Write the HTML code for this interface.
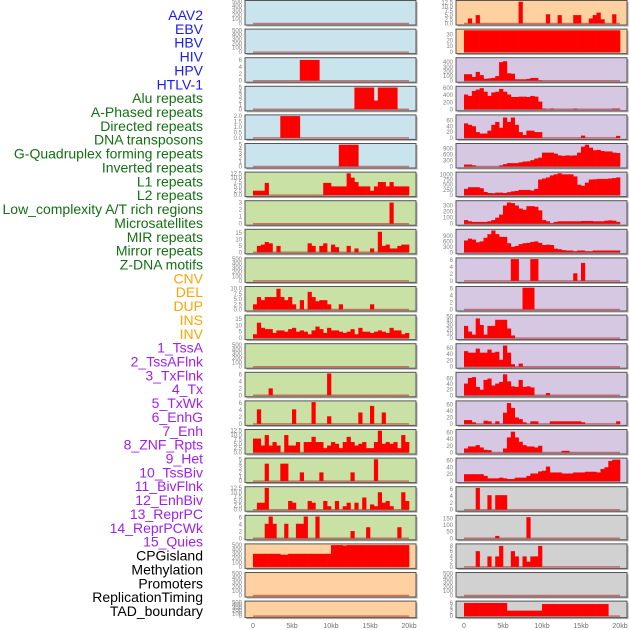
<!DOCTYPE html>
<html><head><meta charset="utf-8"><style>
html,body{margin:0;padding:0;background:#fff;width:630px;height:630px;overflow:hidden}
svg{display:block}
text{font-family:"Liberation Sans",sans-serif}
</style></head><body>
<svg id="chart" width="630" height="630" xmlns="http://www.w3.org/2000/svg"></svg>
<script>
const labels=["AAV2","EBV","HBV","HIV","HPV","HTLV-1","Alu repeats","A-Phased repeats","Directed repeats","DNA transposons","G-Quadruplex forming repeats","Inverted repeats","L1 repeats","L2 repeats","Low_complexity A/T rich regions","Microsatellites","MIR repeats","Mirror repeats","Z-DNA motifs","CNV","DEL","DUP","INS","INV","1_TssA","2_TssAFlnk","3_TxFlnk","4_Tx","5_TxWk","6_EnhG","7_Enh","8_ZNF_Rpts","9_Het","10_TssBiv","11_BivFlnk","12_EnhBiv","13_ReprPC","14_ReprPCWk","15_Quies","CPGisland","Methylation","Promoters","ReplicationTiming","TAD_boundary"];
const labelColors=["#1a1aff","#1a1aff","#1a1aff","#1a1aff","#1a1aff","#1a1aff","#137013","#137013","#137013","#137013","#137013","#137013","#137013","#137013","#137013","#137013","#137013","#137013","#137013","#ffa500","#ffa500","#ffa500","#ffa500","#ffa500","#a020f0","#a020f0","#a020f0","#a020f0","#a020f0","#a020f0","#a020f0","#a020f0","#a020f0","#a020f0","#a020f0","#a020f0","#a020f0","#a020f0","#a020f0","#000","#000","#000","#000","#000"];
const xTickKb=[0,5,10,15,20];
const xTickLabels=["0","5kb","10kb","15kb","20kb"];
const binKb=0.5;
const T500=["0","100","200","300","400","500"];
// left column
const leftBg=["b","b","b","b","b","b","g","g","g","g","g","g","g","g","g","g","g","g","g","o","o","o"];
const leftMax=[500,500,6.3,5,2,5,12.5,3.1,17,500,10.5,17,500,6.3,6.3,12.5,5,12.5,6.3,500,500,500];
const leftTicks=[T500,T500,["0","2","4","6"],["0","1","2","3","4","5"],["0.0","0.5","1.0","1.5","2.0"],["0","1","2","3","4","5"],["0.0","2.5","5.0","7.5","10.0","12.5"],["0","1","2","3"],["0","5","10","15"],T500,["0.0","2.5","5.0","7.5","10.0"],["0","5","10","15"],T500,["0","2","4","6"],["0","2","4","6"],["0.0","2.5","5.0","7.5","10.0","12.5"],["0","1","2","3","4","5"],["0.0","2.5","5.0","7.5","10.0","12.5"],["0","2","4","6"],T500,T500,T500];
const L1=[],L2=[],L10=[],L13=[],L21=[],L22=[];
const L3=[0,0,0,0,0,0,0,0,0,0,0,0,6,6,6,6,6,0,0,0,0,0,0,0,0,0,0,0,0,0,0,0,0,0,0,0,0,0,0,0];
const L4=[0,0,0,0,0,0,0,0,0,0,0,0,0,0,0,0,0,0,0,0,0,0,0,0,0,0,5,5,5,5,5,2,5,5,5,5,5,0,0,0];
const L5=[0,0,0,0,0,0,0,2,2,2,2,2,0,0,0,0,0,0,0,0,0,0,0,0,0,0,0,0,0,0,0,0,0,0,0,0,0,0,0,0];
const L6=[0,0,0,0,0,0,0,0,0,0,0,0,0,0,0,0,0,0,0,0,0,0,5,5,5,5,5,0,0,0,0,0,0,0,0,0,0,0,0,0];
const L7=[2.5,2.5,2.5,7,0,0,0,0,0,0,0,0,0,0,0,0,0,0,7,7,5,5,5,5,12.5,10,7.5,5,5,5,2.5,5,7.5,7.5,5,7.5,5,5,5,5];
const L8=[0,0,0,0,0,0,0,0,0,0,0,0,0,0,0,0,0,0,0,0,0,0,0,0,0,0,0,0,0,0,0,0,0,0,0,3,0,0,0,0];
const L9=[0,5,6,8,7,0,5,0,0,0,0,0,0,0,7,5,0,5,7,0,6,4,0,0,5,0,3,0,0,0,3,0,16,5,6,3,3,5,6,6];
const L11=[2.5,6,4.5,6,6,6,10,6,4.5,6,2.5,0,4.5,0,8.5,6,4,4.5,4.5,2.5,0,0,2.5,0,0,0,0,0,0,0,2.5,0,0,0,0,0,0,0,0,0];
const L12=[3,12,8,7,7,4,6,6,5,7,8,5,6,5,3,6,9,7,4,8,6,6,5,4,5,7,3,8,5,5,4,5,6,5,4,8,6,6,3,4];
const L14=[0,0,0,0,2,0,0,0,0,0,0,0,0,0,0,0,0,0,0,6.3,0,0,0,0,0,0,0,0,0,0,0,0,0,0,0,0,0,0,0,0];
const L15=[0,4.2,0,0,0,0,0,0,0,0,4.2,0,0,0,0,6.3,0,0,0,2.2,0,0,0,0,0,0,0,3.3,0,0,5.2,0,0,3.3,0,0,0,0,0,0];
const L16=[8,8,4,10,4,6,4,0,10,4,4,6,0,6,6,9,6,6,2.5,4,6,5,2.5,6,9,6,4,5,6,2.5,2.5,6,12.5,5,6,5,6,2.5,10,6];
const L17=[0,0,0,4,0,0,0,4,4,0,0,0,2,0,0,0,0,2,0,0,0,0,0,0,0,2,0,0,0,0,0,5,0,0,0,0,0,0,0,0];
const L18=[0,4,4,12.5,0,0,0,0,0,5,4,0,0,0,5,4,0,0,5,2,0,5,0,2,4,0,4,0,7,0,3,2,10,4,5,2,0,0,10,5];
const L19=[0,0,0,4.2,6.3,4.2,0,0,4.2,0,0,4.2,4.2,6.3,0,0,6.3,0,0,0,0,0,0,0,0,2.1,0,0,0,3.2,0,0,0,0,0,0,0,3.2,0,0];
const L20=[300,300,300,300,300,300,300,280,280,300,300,300,300,300,300,300,300,300,300,300,500,500,500,490,500,500,500,500,500,500,500,500,500,500,500,500,500,500,500,500];
// right column
const rightBg=["o","o","p","p","p","p","p","p","p","p","p","p","p","p","p","p","p","y","y","y","y","y"];
const rightMax=[13,37,470,620,75,1100,1050,360,1200,6.3,6.3,50,70,78,68,65,63,6.3,165,8.3,500,6.3];
const rightTicks=[["0.0","2.5","5.0","7.5","10.0","12.5"],["0","10","20","30"],["0","100","200","300","400"],["0","200","400","600"],["0","20","40","60"],["0","300","600","900"],["0","250","500","750","1000"],["0","100","200","300"],["0","300","600","900"],["0","2","4","6"],["0","2","4","6"],["0","10","20","30","40","50"],["0","20","40","60"],["0","20","40","60"],["0","20","40","60"],["0","20","40","60"],["0","20","40","60"],["0","2","4","6"],["0","50","100","150"],["0","2","4","6","8"],T500,["0","2","4","6"]];
const R1=[0,3,0,5,0,0,0,0,0,0,0,0,0,0,13,0,0,0,0,0,0,5.5,0,0,5,0,0,0,5,5,0,0,3,5,6.5,2.5,0,0,5.5,0];
const R2=[37,37,37,37,37,37,37,37,37,37,37,37,37,37,37,37,37,37,37,37,37,37,37,37,37,37,37,37,37,37,37,37,37,37,37,37,37,37,37,37];
const R3=[140,140,80,190,120,40,50,60,100,400,420,160,150,30,30,30,40,60,60,10,0,0,0,0,0,0,0,0,0,0,0,0,0,0,0,0,0,0,0,0];
const R4=[420,380,520,560,600,500,380,480,500,580,500,420,350,350,360,360,350,380,360,220,20,0,20,0,0,0,0,0,20,0,0,0,0,0,0,0,0,0,20,20];
const R5=[50,45,40,20,15,15,25,45,55,35,70,55,70,45,20,10,25,25,20,20,0,0,0,0,0,0,0,0,0,0,8,0,0,0,0,0,0,0,0,7];
const R6=[100,100,60,0,0,0,0,0,0,60,120,170,170,170,210,250,260,320,400,450,700,700,700,650,560,540,560,550,560,700,1000,1100,950,820,840,780,760,760,700,680];
const R7=[300,380,380,380,330,150,100,90,120,120,100,140,180,200,250,250,250,220,300,750,800,850,950,1000,1050,1000,1000,1000,900,500,450,600,750,760,780,780,780,800,820,850];
const R8=[60,40,30,30,30,30,40,60,100,150,300,350,340,300,250,230,290,290,280,220,60,40,10,30,40,40,40,40,40,40,45,45,45,40,40,40,50,55,50,30];
const R9=[650,750,700,550,600,800,1000,1200,1000,850,850,500,300,350,450,500,520,570,600,520,400,420,400,200,170,120,100,100,60,100,100,60,60,100,100,100,100,100,100,100];
const R10=[0,0,0,0,0,0,0,0,0,0,0,0,6.3,6.3,0,0,0,6.3,6.3,0,0,0,0,0,0,0,0,0,2.2,0,5.2,0,0,0,0,0,0,0,0,0];
const R11=[0,0,0,0,0,0,0,0,0,0,0,0,0,0,0,6.3,6.3,6.3,0,0,0,0,0,0,0,0,0,0,0,0,0,0,0,0,0,0,0,0,0,0];
const R12=[28,15,8,45,30,8,28,28,42,42,42,22,6,0,0,0,0,0,0,0,0,0,0,0,0,0,0,0,0,0,0,0,0,0,0,0,0,0,0,0];
const R13=[50,45,45,58,45,45,55,45,48,22,68,45,8,0,10,0,0,0,0,0,0,0,0,0,0,0,0,0,0,0,0,0,0,0,0,0,0,0,0,0];
const R14=[42,62,65,30,20,55,60,35,42,48,75,50,32,30,55,30,32,28,0,0,0,8,0,0,0,0,0,0,0,0,0,0,0,0,0,0,0,0,0,0];
const R15=[12,12,5,0,0,10,8,0,8,0,35,65,50,20,15,5,0,8,8,0,0,0,8,8,8,8,8,8,8,8,5,0,0,0,0,0,0,0,0,8];
const R16=[12,18,18,22,15,8,7,0,0,0,12,45,62,45,32,22,18,18,15,20,0,0,0,0,0,5,5,0,0,0,0,0,0,0,0,0,0,0,0,0];
const R17=[20,20,20,20,20,15,8,8,8,10,8,6,6,10,10,10,15,22,22,28,30,42,25,25,25,22,22,22,25,25,25,27,27,27,25,35,40,58,62,62];
const R18=[0,0,0,6.3,0,0,4.2,0,4.2,4.2,4.2,0,0,0,0,0,0,0,0,0,0,0,0,0,0,0,0,0,0,0,0,0,0,0,0,0,0,0,0,0];
const R19=[0,0,0,0,0,0,0,0,18,0,0,0,0,0,0,0,160,0,0,0,0,0,0,0,0,0,0,0,0,0,0,0,0,0,0,0,0,0,0,0];
const R20=[0,0,0,6,0,0,4,0,4,8,0,0,6,4,0,4,2,4,4,8,0,0,0,0,0,0,0,0,0,0,0,0,0,0,0,0,0,0,0,0];
const R21=[];
const R22=[6,6,6,6,6,6,6,6,6,6,6,2.5,2.5,2.5,2.5,2.5,2.5,2.5,2.5,2.5,5.5,5.5,5.5,5.5,5.5,5.5,5.5,5.5,5.5,5.5,5.5,5.5,5.5,5.5,5.5,5.5,5.5,0,0,0];
const leftValues=[L1,L2,L3,L4,L5,L6,L7,L8,L9,L10,L11,L12,L13,L14,L15,L16,L17,L18,L19,L20,L21,L22];
const rightValues=[R1,R2,R3,R4,R5,R6,R7,R8,R9,R10,R11,R12,R13,R14,R15,R16,R17,R18,R19,R20,R21,R22];

const NS="http://www.w3.org/2000/svg";
const svg=document.getElementById('chart');
const bgColors={b:"#c9e4ec",g:"#c9e1a4",o:"#ffd1a1",p:"#d6c7e3",y:"#d1d1d1"};
function mk(tag,attrs,parent){const e=document.createElementNS(NS,tag);for(const k in attrs)e.setAttribute(k,attrs[k]);(parent||svg).appendChild(e);return e;}

// labels
labels.forEach((t,i)=>{
  const e=mk('text',{x:203,y:20+i*13.86,'text-anchor':'end','font-size':'14',fill:labelColors[i]});
  e.textContent=t;
  
  
});

function rowTop(i){return 0.5+i*28.6;}
function rowH(i){return i===21?16.5:24.5;}

function drawColumn(side,panelLeft,x0px,values,maxes,ticks,bgs){
  const pxPerKb=(156)/20;
  const xScale=kb=>x0px+kb*pxPerKb;
  for(let i=0;i<22;i++){
    const top=rowTop(i),h=rowH(i);
    const g=mk('g',{});
    
    
    mk('rect',{x:panelLeft+1.5,y:top+1.5,width:171,height:h,fill:'#aaa'},g);
    const bg=mk('rect',{x:panelLeft,y:top,width:171,height:h,fill:bgColors[bgs[i]],stroke:'#555','stroke-width':1},g);
    
    
    const pTop=top+1.2,pBot=top+h-1.5;
    const yScale=v=>pBot-(v/maxes[i])*(pBot-pTop);
    const vals=values[i];
    vals.forEach((v,k)=>{
      if(v<=0)return;
      const xa=xScale(k*binKb),xb=xScale((k+1)*binKb);
      const r=mk('rect',{x:xa,y:yScale(v),width:xb-xa+0.3,height:pBot-yScale(v),fill:'#ff0000'},g);
      
      
    });
    const bl=mk('line',{x1:xScale(0),x2:xScale(20),y1:pBot,y2:pBot,stroke:'rgba(190,30,30,0.55)','stroke-width':1.5},g);
    
    
    ticks[i].forEach(t=>{
      const tv=parseFloat(t);
      const te=mk('text',{x:panelLeft-3,y:yScale(tv)+2,'text-anchor':'end','font-size':'6',fill:'#808080'},g);
      te.textContent=t;
      
      
    });
  }
  xTickKb.forEach((kb,j)=>{
    const te=mk('text',{x:xScale(kb),y:628,'text-anchor':'middle','font-size':'7',fill:'#707070'});
    te.textContent=xTickLabels[j];
    
    
  });
}
drawColumn('left',245,253,leftValues,leftMax,leftTicks,leftBg);
drawColumn('right',456,464,rightValues,rightMax,rightTicks,rightBg);
</script>
</body></html>
